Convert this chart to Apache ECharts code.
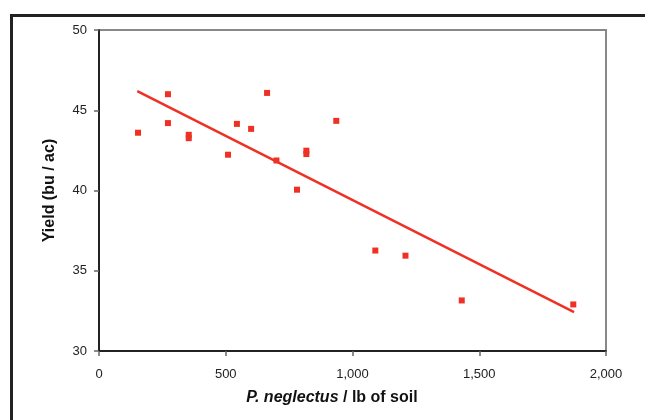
<!DOCTYPE html>
<html>
<head>
<meta charset="utf-8">
<script src="https://cdn.jsdelivr.net/npm/echarts@6/dist/echarts.min.js"></script>
<style>
  html, body { margin: 0; padding: 0; background: #fff; }
  #chart { width: 645px; height: 420px; }
</style>
</head>
<body>
<div id="chart"></div>
<script>
// nematode count per lb of soil vs yield
var countPerLb = [154, 272, 272, 354, 354, 509, 544, 600, 663, 700, 781, 818, 818, 936, 1090, 1209, 1431, 1871];
var yieldBuAc = [43.6, 46.0, 44.2, 43.47, 43.26, 42.23, 44.15, 43.84, 46.08, 41.87, 40.05, 42.48, 42.27, 44.34, 36.26, 35.94, 33.15, 32.9];

// trend line end points, as drawn
var trendX = [151, 1874];
var trendY = [46.19, 32.42];

var xTicks = [0, 500, 1000, 1500, 2000];
var yTicks = [30, 35, 40, 45, 50];

var red = '#ee3124';
var font = '"Liberation Sans", Arial, sans-serif';

var myChart = echarts.init(document.getElementById('chart'));

var points = countPerLb.map(function (x, i) { return [x, yieldBuAc[i]]; });
var trend = trendX.map(function (x, i) { return [x, trendY[i]]; });

var option = {
  animation: false,
  textStyle: { fontFamily: font },
  grid: {
    left: 99, top: 30, width: 507, height: 321,
    show: true, borderColor: '#888', borderWidth: 2, backgroundColor: '#fff'
  },
  graphic: [
    {
      type: 'rect', left: 9, top: 13, z: 100,
      shape: { width: 700, height: 500 },
      style: { fill: 'none', stroke: '#222', lineWidth: 3 }
    },
    {
      type: 'text', x: 332, y: 390, z: 100,
      style: {
        text: '{i|P. neglectus}{n| / lb of soil}',
        align: 'center', verticalAlign: 'top',
        rich: {
          i: { fontStyle: 'italic', fontWeight: 'bold', fontSize: 16, fill: '#111', fontFamily: font },
          n: { fontWeight: 'bold', fontSize: 16, fill: '#111', fontFamily: font }
        }
      }
    }
  ],
  xAxis: {
    type: 'value',
    min: xTicks[0], max: xTicks[xTicks.length - 1], interval: 500,
    axisLine: { show: true, onZero: false, lineStyle: { color: '#000', width: 1.5 } },
    axisTick: { show: true, length: 5, lineStyle: { color: '#666', width: 1.5 } },
    splitLine: { show: false },
    axisLabel: {
      color: '#222', fontSize: 13, margin: 17,
      formatter: function (v) { return v.toLocaleString('en-US'); }
    }
  },
  yAxis: {
    type: 'value',
    min: yTicks[0], max: yTicks[yTicks.length - 1], interval: 5,
    name: 'Yield (bu / ac)', nameLocation: 'middle', nameGap: 41,
    nameTextStyle: { fontWeight: 'bold', fontSize: 16, color: '#111' },
    axisLine: { show: true, onZero: false, lineStyle: { color: '#000', width: 1.5 } },
    axisTick: { show: true, length: 5, lineStyle: { color: '#666', width: 1.5 } },
    splitLine: { show: false },
    axisLabel: { color: '#222', fontSize: 13, margin: 12 }
  },
  series: [
    {
      type: 'line',
      data: trend,
      symbol: 'none',
      lineStyle: { color: red, width: 2.5 },
      z: 2
    },
    {
      type: 'scatter',
      data: points,
      symbol: 'rect',
      symbolSize: 6,
      itemStyle: { color: red, opacity: 1 },
      z: 3
    }
  ]
};

myChart.setOption(option);
</script>
</body>
</html>
